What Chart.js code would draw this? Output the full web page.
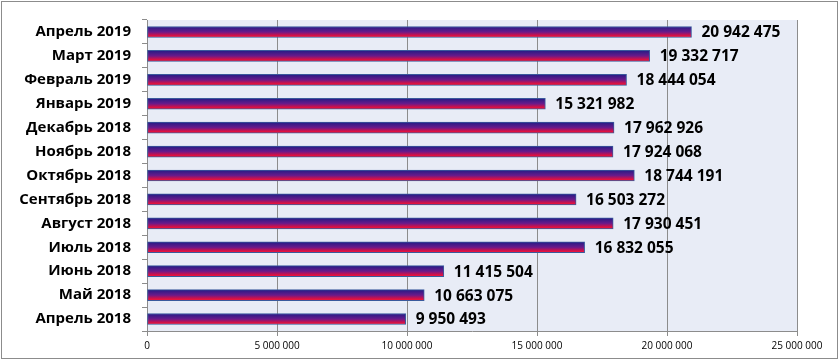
<!DOCTYPE html>
<html><head><meta charset="utf-8">
<script src="https://cdn.jsdelivr.net/npm/chart.js@4"></script>
<style>html,body{margin:0;padding:0;background:#fff}#w{width:839px;height:360px;position:relative}</style>
</head><body><div id="w"><canvas id="c" width="839" height="360"></canvas></div>
<script>
const categories = ["Апрель 2019","Март 2019","Февраль 2019","Январь 2019","Декабрь 2018","Ноябрь 2018","Октябрь 2018","Сентябрь 2018","Август 2018","Июль 2018","Июнь 2018","Май 2018","Апрель 2018"];
const values = [20942475,19332717,18444054,15321982,17962926,17924068,18744191,16503272,17930451,16832055,11415504,10663075,9950493];
const xTicks = [0,5000000,10000000,15000000,20000000,25000000];

const fmt = v => String(v).replace(/\B(?=(\d{3})+(?!\d))/g, ' ');
const FONT = "'Open Sans', sans-serif";
const BAR_H = 11;

const bgPlugin = {
  id:'bg',
  beforeDraw(chart){
    const {ctx, chartArea:a} = chart;
    ctx.save();
    ctx.fillStyle = '#fff';
    ctx.fillRect(0,0,chart.width,chart.height);
    ctx.fillStyle = '#E8ECF6';
    ctx.fillRect(a.left,a.top,a.right-a.left,a.bottom-a.top);
    ctx.strokeStyle = '#8c8c8c';
    ctx.lineWidth = 1;
    ctx.strokeRect(1.5,1.5,chart.width-3,chart.height-3);
    ctx.restore();
  }
};
const labelPlugin = {
  id:'lbl',
  afterDatasetsDraw(chart){
    const {ctx} = chart;
    const meta = chart.getDatasetMeta(0);
    ctx.save();
    ctx.font = "bold 15.5px " + FONT;
    ctx.fillStyle = '#000';
    ctx.textBaseline = 'middle';
    ctx.textAlign = 'left';
    meta.data.forEach((bar,i)=>{
      ctx.fillText(fmt(values[i]), bar.x + 10, bar.y + 1);
    });
    ctx.restore();
  }
};

function barGrad(c){
  const chart = c.chart;
  if (!chart.chartArea) return '#7a1a90';
  const y = chart.scales.y.getPixelForValue(c.dataIndex);
  const g = chart.ctx.createLinearGradient(0, y - BAR_H/2, 0, y + BAR_H/2);
  g.addColorStop(0, '#221c86');
  g.addColorStop(0.5, '#6a1a8a');
  g.addColorStop(0.85, '#e01040');
  g.addColorStop(1, '#f0203c');
  return g;
}

new Chart(document.getElementById('c'), {
  type:'bar',
  data:{labels:categories, datasets:[{data:values, backgroundColor:barGrad, borderColor:'#3a5a9c', borderWidth:1, borderSkipped:false, barThickness:BAR_H}]},
  options:{
    indexAxis:'y', responsive:false, animation:false,
    layout:{padding:{left:0,right:42,top:10,bottom:0}},
    plugins:{legend:{display:false}, tooltip:{enabled:false}},
    scales:{
      x:{min:0,max:25000000,
         afterBuildTicks(s){ s.ticks = xTicks.map(v=>({value:v})); },
         afterFit(s){ s.height = 29; },
         grid:{color:'#8c8c8c', lineWidth:1, tickLength:5, drawTicks:true},
         border:{color:'#8c8c8c'},
         ticks:{font:{family:FONT,size:10}, color:'#000', padding:4, maxRotation:0, callback:(v)=>fmt(v)}},
      y:{afterFit(s){ s.width = 147; },
         grid:{drawOnChartArea:false, color:'#8c8c8c', tickLength:5, offset:true},
         border:{color:'#8c8c8c'},
         ticks:{font:{family:FONT,size:15,weight:'bold'}, color:'#000', padding:11}}
    }
  },
  plugins:[bgPlugin,labelPlugin]
});
</script></body></html>
